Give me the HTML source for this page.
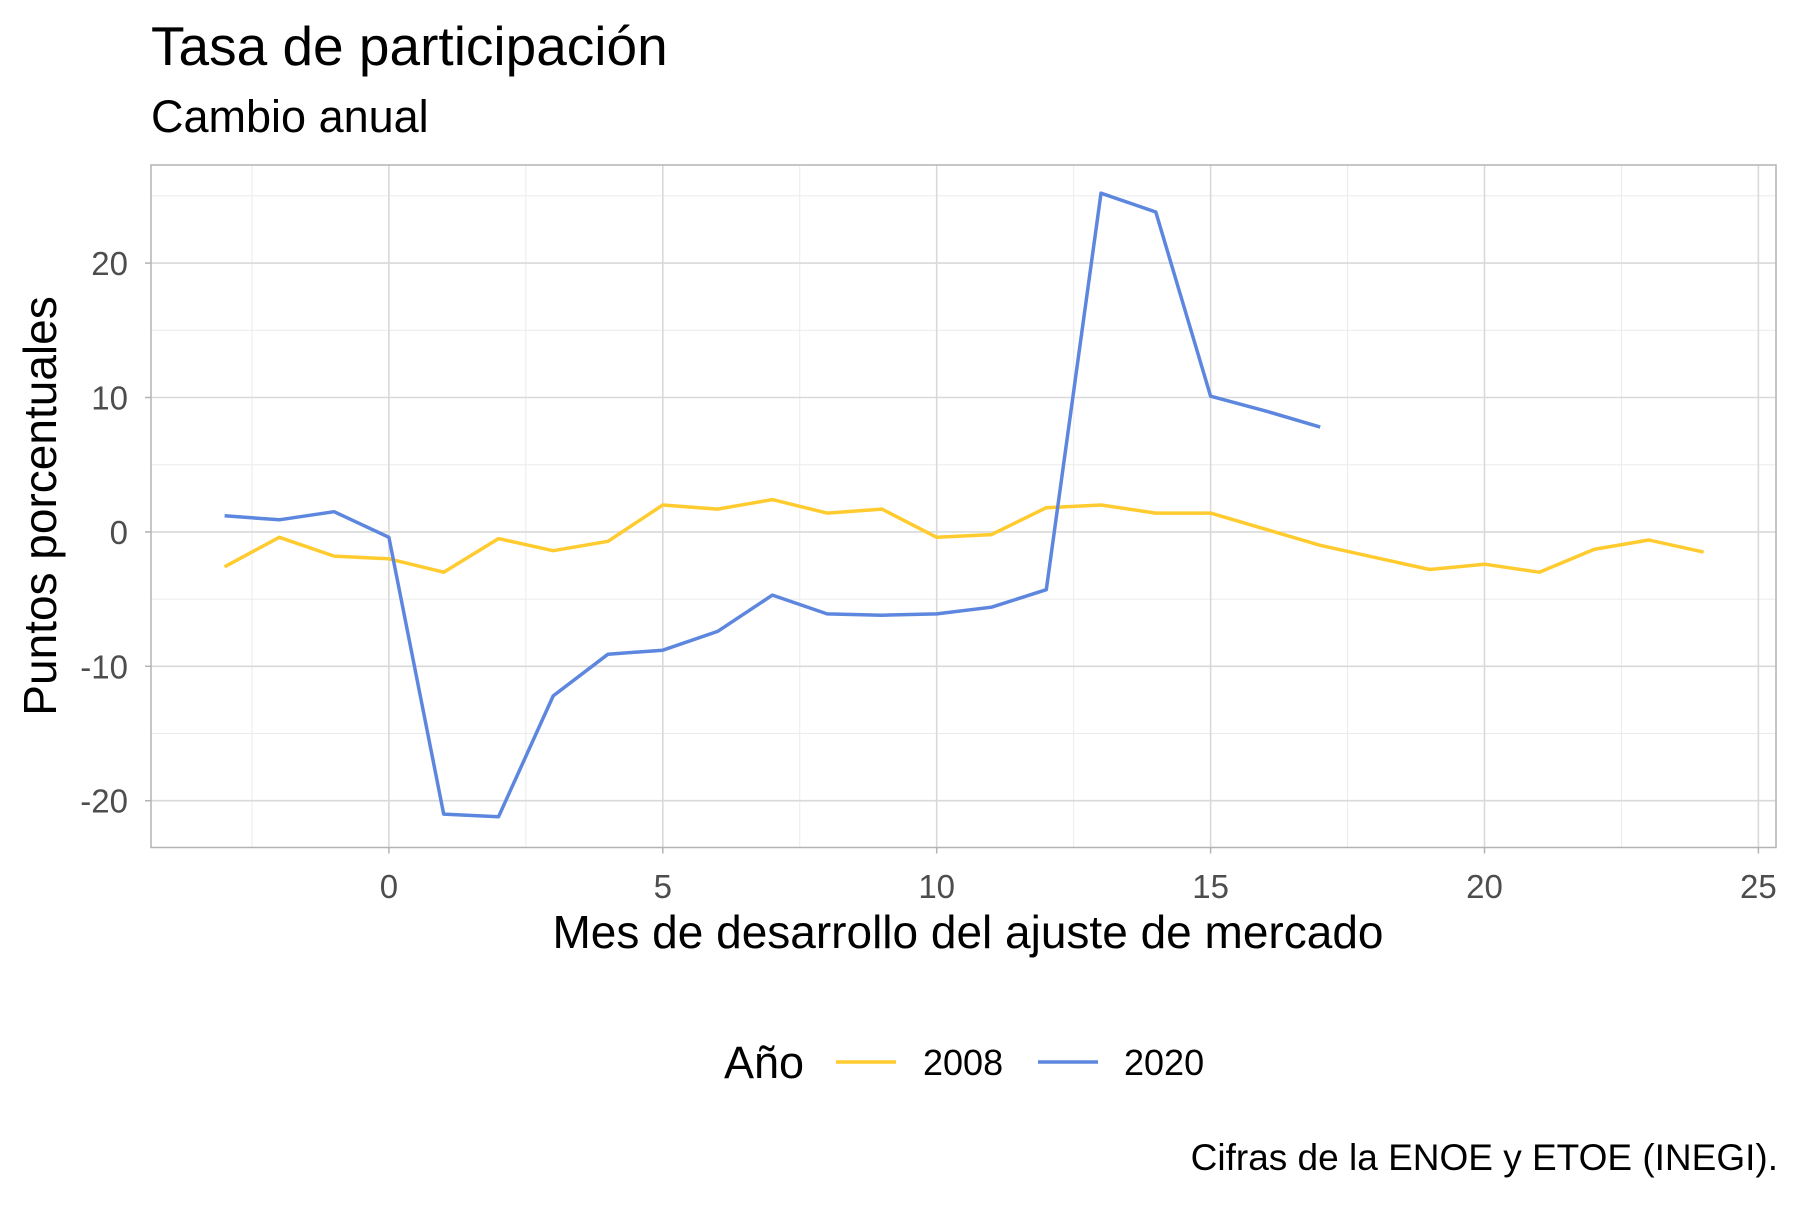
<!DOCTYPE html>
<html><head><meta charset="utf-8"><style>
body{margin:0;background:#fff}
svg text{font-family:"Liberation Sans",sans-serif}
</style></head><body>
<svg id="c" width="1800" height="1200" viewBox="0 0 1800 1200" xmlns="http://www.w3.org/2000/svg">
<rect width="1800" height="1200" fill="#fff"/>
<text x="151" y="65" font-size="55" fill="#000">Tasa de participación</text>
<text x="151" y="132" font-size="45" fill="#000">Cambio anual</text>
<g id="grid"></g>
<g id="lines"></g>
<rect x="151" y="165" width="1625" height="682.5" fill="none" stroke="#b3b3b3" stroke-width="1.5"/>
<g id="ticks"></g>
<text x="968" y="948" font-size="46" text-anchor="middle">Mes de desarrollo del ajuste de mercado</text>
<text transform="translate(56,506) rotate(-90)" font-size="46" text-anchor="middle">Puntos porcentuales</text>
<g>
<text x="724" y="1078" font-size="45">Año</text>
<line x1="836" y1="1062" x2="896" y2="1062" stroke="#FFCB2F" stroke-width="3.5"/>
<text x="923" y="1075" font-size="36">2008</text>
<line x1="1038" y1="1062" x2="1098" y2="1062" stroke="#5D87DE" stroke-width="3.5"/>
<text x="1124" y="1075" font-size="36">2020</text>
</g>
<text x="1778" y="1170" font-size="37" text-anchor="end">Cifras de la ENOE y ETOE (INEGI).</text>
</svg>
<script>
const months2008 = [-3,-2,-1,0,1,2,3,4,5,6,7,8,9,10,11,12,13,14,15,16,17,18,19,20,21,22,23,24];
const values2008 = [-2.6,-0.4,-1.8,-2.0,-3.0,-0.5,-1.4,-0.7,2.0,1.7,2.4,1.4,1.7,-0.4,-0.2,1.8,2.0,1.4,1.4,0.2,-1.0,-1.9,-2.8,-2.4,-3.0,-1.3,-0.6,-1.5];
const months2020 = [-3,-2,-1,0,1,2,3,4,5,6,7,8,9,10,11,12,13,14,15,16,17];
const values2020 = [1.2,0.9,1.5,-0.4,-21.0,-21.2,-12.2,-9.1,-8.8,-7.4,-4.7,-6.1,-6.2,-6.1,-5.6,-4.3,25.2,23.8,10.1,9.0,7.8];
const xTicks = [0,5,10,15,20,25];
const yTicks = [-20,-10,0,10,20];
const NS='http://www.w3.org/2000/svg';
const L=151,R=1776,T=165,B=847.5;
function xs(v){return 388.9+v*54.78;}
function ys(v){return 531.9-v*13.44;}
function mk(p,tag,a){const e=document.createElementNS(NS,tag);for(const k in a)e.setAttribute(k,a[k]);p.appendChild(e);return e;}
const grid=document.getElementById('grid'),ticks=document.getElementById('ticks'),lines=document.getElementById('lines');
for(let v=-2.5;v<=25;v+=5){const g=mk(grid,'line',{x1:xs(v),x2:xs(v),y1:T,y2:B,stroke:'#ebebeb','stroke-width':1});

}
for(let v=-15;v<=25;v+=10){const g=mk(grid,'line',{x1:L,x2:R,y1:ys(v),y2:ys(v),stroke:'#ebebeb','stroke-width':1});

}
xTicks.forEach(v=>{const g=mk(grid,'line',{x1:xs(v),x2:xs(v),y1:T,y2:B,stroke:'#d9d9d9','stroke-width':1.6});


const t=mk(ticks,'line',{x1:xs(v),x2:xs(v),y1:B,y2:B+6,stroke:'#b3b3b3','stroke-width':1.5});


const s=mk(ticks,'text',{x:xs(v),y:898,'font-size':33,'text-anchor':'middle',fill:'#4d4d4d'});s.textContent=v;

});
yTicks.forEach(v=>{const g=mk(grid,'line',{x1:L,x2:R,y1:ys(v),y2:ys(v),stroke:'#d9d9d9','stroke-width':1.6});


const t=mk(ticks,'line',{x1:L-6,x2:L,y1:ys(v),y2:ys(v),stroke:'#b3b3b3','stroke-width':1.5});


const s=mk(ticks,'text',{x:128,y:ys(v)+12,'font-size':33,'text-anchor':'end',fill:'#4d4d4d'});s.textContent=v;

});
function line(ms,vs,col,name){const d=ms.map((m,i)=>(i?'L':'M')+xs(m).toFixed(1)+' '+ys(vs[i]).toFixed(1)).join(' ');
const p=mk(lines,'path',{d:d,fill:'none',stroke:col,'stroke-width':3.5,'stroke-linejoin':'round'});

}
line(months2008,values2008,'#FFCB2F','line-2008');
line(months2020,values2020,'#5D87DE','line-2020');
</script>
</body></html>
